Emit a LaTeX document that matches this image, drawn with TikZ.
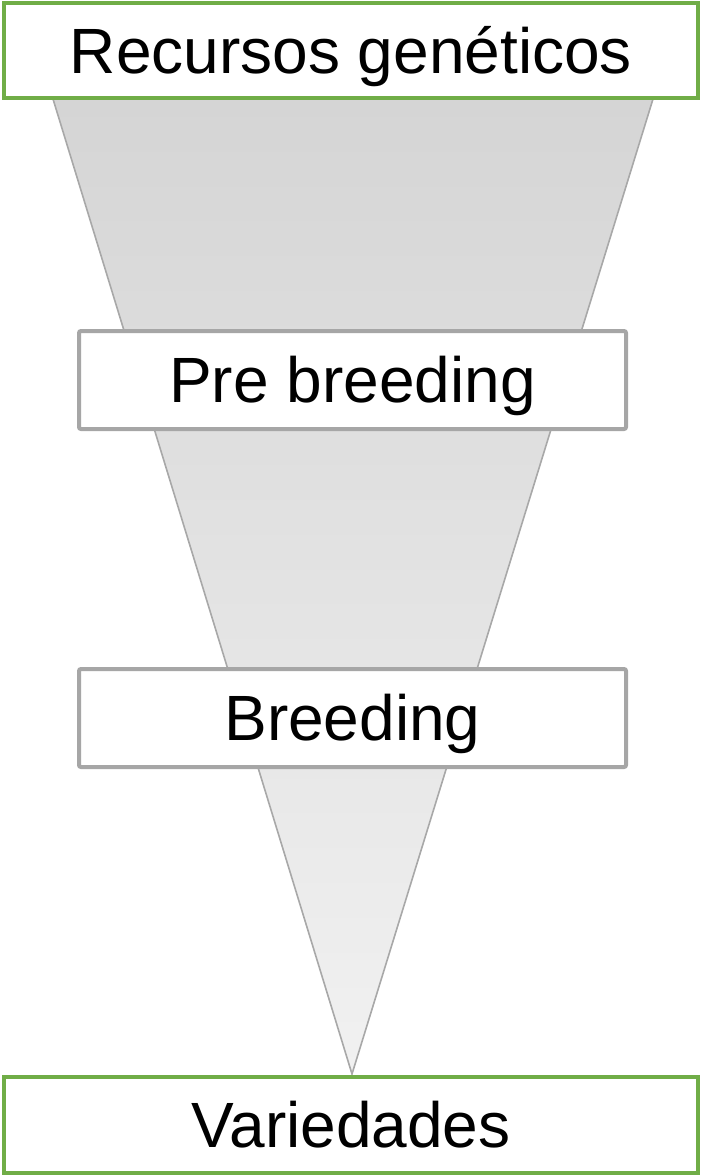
\documentclass[tikz,border=0pt]{standalone}
\usepackage{fontspec}
\setmainfont{Liberation Sans}
\begin{document}
\definecolor{stagegreen}{HTML}{70AD47}
\definecolor{stagegray}{HTML}{A6A6A6}
\definecolor{funneltop}{HTML}{D5D5D5}
\definecolor{funnelbottom}{HTML}{F1F1F1}
\definecolor{funneledge}{HTML}{A8A8A8}
\begin{tikzpicture}[x=1pt,y=-1pt,
  stage/.style={rectangle, fill=white, line width=4pt, inner sep=0pt,
    minimum width=#1, font=\fontsize{64}{70}\selectfont,
    text height=45.5pt, text depth=0pt},
  endstage/.style={stage=694pt, draw=stagegreen, minimum height=95pt},
  midstage/.style={stage=547pt, draw=stagegray, minimum height=98pt,
    rounded corners=2pt}]
  \useasboundingbox (0,0) rectangle (701,1176);
  % funnel narrowing from the resources to the varieties
  \coordinate (fl) at (53,99);
  \coordinate (fr) at (653,99);
  \coordinate (tip) at (352,1074);
  \shade[top color=funneltop, bottom color=funnelbottom] (fl) -- (fr) -- (tip) -- cycle;
  \draw[funneledge, line width=1.6pt, line join=miter] (fl) -- (tip) -- (fr);
  % stages along the funnel
  \node[endstage] (recursos) at (351,50.5) {Recursos genéticos};
  \node[midstage] (pre) at (352.5,380) {Pre breeding};
  \node[midstage] (breed) at (352.5,718) {Breeding};
  \node[endstage, minimum height=96pt] (var) at (351,1125) {Variedades};
\end{tikzpicture}
\end{document}
